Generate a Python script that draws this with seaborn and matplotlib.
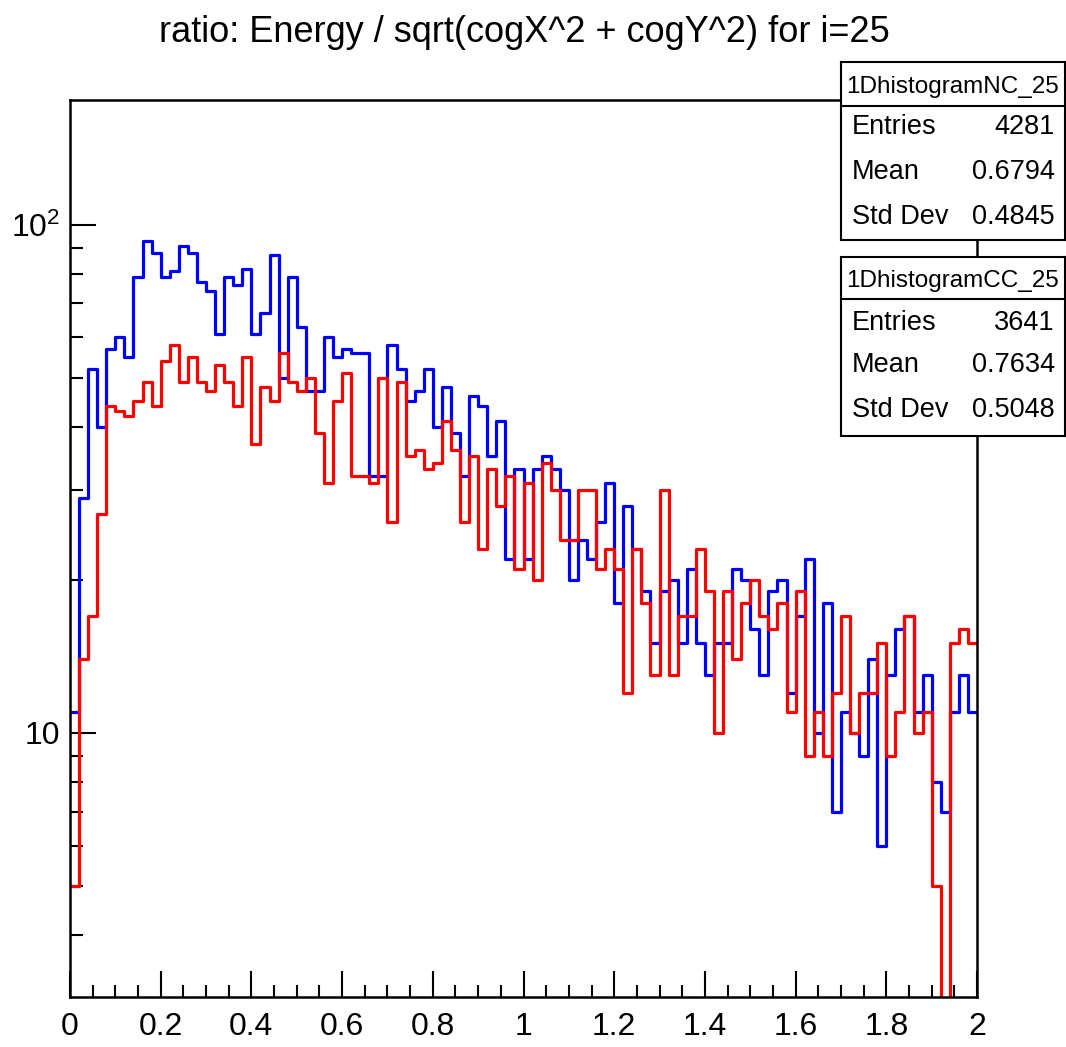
import numpy as np
import pandas as pd
import matplotlib
matplotlib.use("Agg")
import matplotlib.pyplot as plt
from matplotlib.ticker import MultipleLocator, LogLocator, NullFormatter, FixedLocator
import seaborn as sns

# ---- data ---------------------------------------------------------------
title = "ratio: Energy / sqrt(cogX^2 + cogY^2) for i=25"
n_bins = 100
x_range = (0.0, 2.0)

nc_counts = [
    11, 29, 52, 40, 57, 60, 55, 79, 93, 88,
    79, 81, 91, 88, 77, 74, 61, 79, 76, 82,
    61, 67, 87, 50, 79, 63, 47, 47, 60, 55,
    57, 56, 56, 32, 32, 58, 52, 45, 47, 52,
    40, 48, 39, 32, 46, 44, 35, 41, 22, 33,
    22, 33, 35, 33, 30, 20, 24, 22, 26, 31,
    18, 28, 23, 19, 15, 19, 20, 15, 21, 15,
    13, 15, 15, 21, 20, 16, 13, 19, 20, 12,
    17, 22, 10, 18, 7, 11, 10, 9, 14, 6,
    13, 16, 17, 11, 13, 8, 7, 11, 13, 11,
]
cc_counts = [
    5, 14, 17, 27, 44, 43, 42, 45, 49, 44,
    54, 58, 49, 55, 49, 47, 53, 49, 44, 55,
    37, 48, 45, 56, 49, 47, 50, 39, 31, 45,
    51, 32, 32, 31, 50, 26, 49, 35, 36, 33,
    34, 41, 36, 26, 35, 23, 33, 28, 32, 21,
    31, 20, 34, 30, 24, 24, 30, 30, 21, 23,
    21, 12, 23, 18, 13, 30, 13, 17, 17, 23,
    19, 10, 19, 14, 18, 20, 17, 16, 18, 11,
    19, 9, 11, 9, 12, 17, 10, 12, 12, 15,
    9, 11, 17, 10, 11, 5, 0, 15, 16, 15,
]

nc_name = "1DhistogramNC_25"
cc_name = "1DhistogramCC_25"
stat_labels = ["Entries", "Mean", "Std Dev"]
nc_stat_values = ["4281", "0.6794", "0.4845"]
cc_stat_values = ["3641", "0.7634", "0.5048"]

x_tick_values = [0, 0.2, 0.4, 0.6, 0.8, 1, 1.2, 1.4, 1.6, 1.8, 2]
y_tick_values = [10, 100]
y_tick_labels = ["10", r"$\mathregular{10^{2}}$"]

# ---- style --------------------------------------------------------------
sns.set_theme(style="white")
plt.rcParams["font.family"] = ["Liberation Sans", "DejaVu Sans"]
plt.rcParams["mathtext.fontset"] = "custom"
plt.rcParams["mathtext.rm"] = "Liberation Sans"
plt.rcParams["text.color"] = "black"
plt.rcParams["xtick.labelcolor"] = "black"
plt.rcParams["ytick.labelcolor"] = "black"

W, H = 1066, 1047
fig = plt.figure(figsize=(W / 100, H / 100), dpi=100)
fig.patch.set_facecolor("white")


def fx(px):
    return px / W


def fy(py):
    return 1 - py / H


# frame: x 70..977, y 100..997 (pixels from top-left)
ax = fig.add_axes([fx(70), fy(997), fx(977) - fx(70), fy(100) - fy(997)])
ax.set_facecolor("white")
ax.set_yscale("log")

edges = np.linspace(x_range[0], x_range[1], n_bins + 1)
centers = 0.5 * (edges[:-1] + edges[1:])
df = pd.DataFrame({
    "ratio": np.concatenate([centers, centers]),
    "count": nc_counts + cc_counts,
    "sample": ["NC"] * len(nc_counts) + ["CC"] * len(cc_counts),
})

for name, color in [("NC", "#0000ff"), ("CC", "#ff0000")]:
    sns.histplot(
        data=df[df["sample"] == name], x="ratio", weights="count",
        bins=n_bins, binrange=x_range, element="step", fill=False,
        color=color, linewidth=2.3, ax=ax,
    )

ax.set_xlim(0, 2)
ax.set_ylim(3.02, 176)
ax.set_xlabel("")
ax.set_ylabel("")

ax.xaxis.set_major_locator(FixedLocator(x_tick_values))
ax.set_xticklabels([f"{v:g}" for v in x_tick_values])
ax.xaxis.set_minor_locator(MultipleLocator(0.05))
ax.yaxis.set_major_locator(FixedLocator(y_tick_values))
ax.set_yticklabels(y_tick_labels)
ax.yaxis.set_minor_locator(LogLocator(base=10, subs=np.arange(2, 10)))
ax.yaxis.set_minor_formatter(NullFormatter())

ax.tick_params(axis="both", which="major", direction="in", length=19,
               width=1.5, color="black", labelcolor="black", labelsize=23,
               bottom=True, left=True, top=False, right=False)
ax.tick_params(axis="both", which="minor", direction="in", length=9,
               width=1.5, color="black", bottom=True, left=True,
               top=False, right=False)
ax.tick_params(axis="x", which="major", pad=11)
ax.tick_params(axis="y", which="major", pad=7)
for sp in ax.spines.values():
    sp.set_visible(True)
    sp.set_color("black")
    sp.set_linewidth(1.8)

fig.text(fx(524), fy(33), title, ha="center", va="center", fontsize=26,
         color="black")


def stats_box(top, bottom, sep, name, values, row_ys):
    left, right = 841, 1065
    bax = fig.add_axes([fx(left), fy(bottom), fx(right) - fx(left),
                        fy(top) - fy(bottom)])
    bax.set_xlim(0, 1)
    bax.set_ylim(bottom, top)
    bax.set_facecolor("white")
    bax.set_xticks([])
    bax.set_yticks([])
    for sp in bax.spines.values():
        sp.set_color("black")
        sp.set_linewidth(1.5)
    bax.axhline(sep, color="black", linewidth=1.5)
    bax.text(0.5, (top + sep) / 2 + 3, name, ha="center", va="center",
             fontsize=17.5, color="black")
    for lab, val, y in zip(stat_labels, values, row_ys):
        bax.text(0.05, y, lab, ha="left", va="center", fontsize=19.5,
                 color="black")
        bax.text(0.955, y, val, ha="right", va="center", fontsize=19.5,
                 color="black")


stats_box(62, 240, 106, nc_name, nc_stat_values, [127, 172, 217])
stats_box(257, 436, 299, cc_name, cc_stat_values, [323, 365, 410])

fig.savefig("out.png", dpi=100, facecolor="white")
